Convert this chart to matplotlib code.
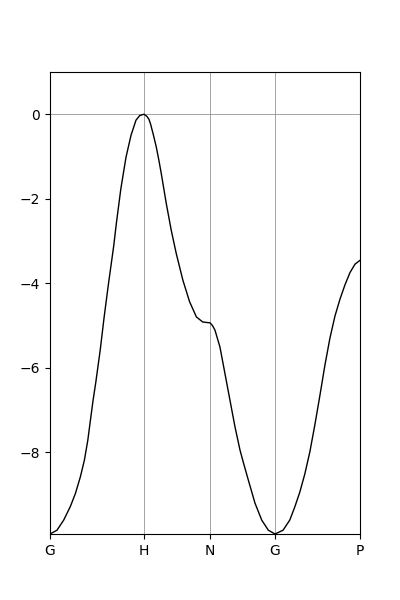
import matplotlib
matplotlib.use('Agg')
import matplotlib.pyplot as plt

# special points along the path
labels = ['G', 'H', 'N', 'G', 'P']
label_x = [0.0, 0.995, 1.693, 2.381, 3.28]

# path coordinate and band energy
kpath = [0.0, 0.074, 0.145, 0.215, 0.269, 0.322, 0.364, 0.400, 0.428, 0.456,
         0.485, 0.531, 0.573, 0.619, 0.674, 0.704, 0.750, 0.804, 0.857,
         0.910, 0.950, 0.995,
         1.025, 1.047, 1.065, 1.095, 1.124, 1.152, 1.177, 1.230, 1.283,
         1.336, 1.406, 1.477, 1.549, 1.616, 1.693,
         1.718, 1.745, 1.798, 1.851, 1.904, 1.957, 2.010, 2.045, 2.098,
         2.169, 2.240, 2.310, 2.381,
         2.466, 2.537, 2.590, 2.643, 2.696, 2.749, 2.802, 2.855, 2.909,
         2.962, 3.015, 3.068, 3.121, 3.174, 3.227, 3.28]
energy = [-9.94, -9.85, -9.61, -9.29, -8.98, -8.58, -8.19, -7.72, -7.24, -6.77,
          -6.34, -5.59, -4.80, -4.01, -3.12, -2.55, -1.76, -1.02, -0.50,
          -0.14, -0.03, 0.0,
          -0.05, -0.12, -0.24, -0.50, -0.77, -1.09, -1.40, -2.11, -2.75,
          -3.30, -3.93, -4.44, -4.80, -4.92, -4.94,
          -5.00, -5.11, -5.51, -6.14, -6.77, -7.40, -7.95, -8.24, -8.66,
          -9.21, -9.61, -9.85, -9.94,
          -9.85, -9.61, -9.30, -8.95, -8.52, -8.00, -7.36, -6.67, -5.94,
          -5.30, -4.78, -4.38, -4.04, -3.75, -3.55, -3.46]

fig = plt.figure(figsize=(4, 6), dpi=100)
ax = fig.add_subplot(111)

for x in label_x[1:-1]:
    ax.axvline(x, color='0.5', lw=0.5)
ax.axhline(0, color='0.5', lw=0.5)

ax.plot(kpath, energy, color='k', lw=1)

ax.set_xticks(label_x)
ax.set_xticklabels(labels)
ax.set_xlim(label_x[0], label_x[-1])
ax.set_ylim(min(energy), 1)

plt.savefig('out.png')
